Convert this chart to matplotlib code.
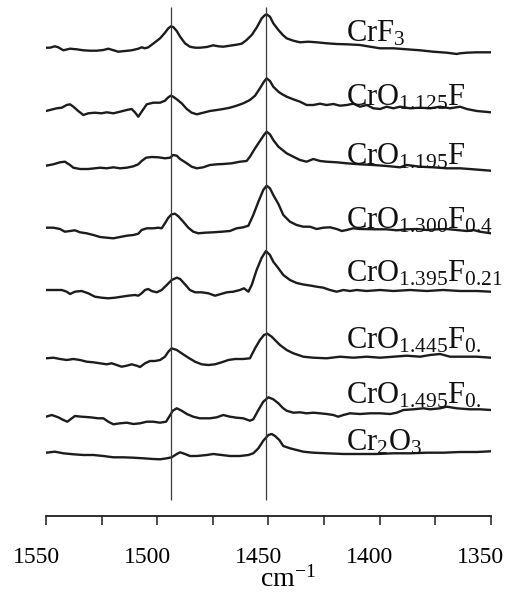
import matplotlib
matplotlib.use('Agg')
import matplotlib.pyplot as plt
import matplotlib.transforms as mtransforms

plt.rcParams['font.family'] = ['Liberation Serif', 'DejaVu Serif']
plt.rcParams['mathtext.fontset'] = 'custom'
plt.rcParams['mathtext.rm'] = 'Liberation Serif'
plt.rcParams['mathtext.it'] = 'Liberation Serif:italic'
plt.rcParams['mathtext.bf'] = 'Liberation Serif:bold'

# ---- data: (wavenumber cm-1, relative intensity) per spectrum ----
crf3 = [(1550, 2.3), (1548.2, 2.3), (1546.0, 3.7), (1544.5, 2.7), (1542.2, -0.3), (1539.2, 1.3),
        (1536.2, 0.7), (1533.2, -0.3), (1530.2, -0.7), (1527.2, -0.7), (1524.2, 0), (1522.0, 1.3),
        (1520.5, 0.3), (1517.5, -1.7), (1514.5, -1), (1511.5, -0.3), (1508.5, 1.3), (1507.0, 2.7),
        (1505.5, 1.7), (1504.0, 2.7), (1501.0, 7.7), (1498.7, 11.7), (1496.5, 17.3), (1495.0, 21.7),
        (1493.8, 23.7), (1492.8, 23), (1491.2, 19), (1489.7, 13.3), (1487.5, 6.7), (1485.3, 3.3),
        (1483.0, 2.3), (1480.8, 2.3), (1477.7, 3), (1474.8, 4.7), (1472.5, 3.7), (1470.3, 3.3),
        (1467.3, 4.3), (1464.3, 5.3), (1462.0, 6.3), (1459.8, 10), (1457.5, 15), (1455.3, 22.3),
        (1453.0, 31.7), (1451.5, 35), (1450.8, 35.7), (1449.3, 33.3), (1447.8, 26.7), (1445.5, 20),
        (1443.5, 15), (1441.8, 11.7), (1438.8, 9.3), (1435.8, 7.7), (1432.1, 8.3), (1428.3, 7.7),
        (1423.8, 6.7), (1419.3, 6), (1414.8, 5.7), (1408.8, 5), (1404.3, 3.3), (1399.8, 1.7),
        (1393.8, 1.7), (1387.8, 0.7), (1381.8, -0.3), (1375.9, -1.7), (1369.8, -2.7), (1365.3, -4),
        (1363.8, -3.3), (1360.8, -2.7), (1356.3, -2.3), (1350, -2.3)]

cro1125 = [(1550, 1), (1548.2, 2), (1545.2, 3.7), (1542.9, 4.3), (1540.7, 7), (1539.2, 7.7),
           (1537.7, 5.3), (1535.5, 1), (1533.2, -3), (1531.0, -1.3), (1528.0, -0.7), (1525.0, -1.3),
           (1522.7, -0.3), (1519.7, -1.3), (1516.7, 0.3), (1513.7, 2), (1511.5, 3), (1510.0, -0.3),
           (1508.5, -4.7), (1507.0, 0.3), (1504.7, 7.7), (1501.8, 9.3), (1498.7, 9.3), (1496.5, 11.3),
           (1495.0, 14.7), (1493.9, 16.3), (1492.8, 15.3), (1491.2, 12.7), (1489.0, 8.7), (1486.7, 3),
           (1484.5, -0.7), (1482.2, -2.3), (1479.3, -0.7), (1476.3, 1), (1473.2, 2), (1470.3, 3),
           (1467.3, 4.3), (1464.3, 6.3), (1461.3, 8.7), (1458.3, 12), (1456.0, 16.3), (1453.8, 23.7),
           (1452.0, 30.3), (1450.8, 33.7), (1449.3, 31), (1447.8, 25.3), (1445.5, 20.3), (1444.0, 18),
           (1441.8, 15.3), (1438.8, 12.7), (1435.8, 10.3), (1432.8, 7), (1429.8, 7), (1426.8, 8.3),
           (1423.8, 7), (1420.8, 8), (1417.8, 6.3), (1414.8, 7), (1411.8, 8.3), (1408.8, 5.3),
           (1405.8, 7), (1402.8, 3.7), (1399.8, 3), (1396.8, 5.3), (1393.8, 3.7), (1390.8, 5.3),
           (1386.3, 3.7), (1381.8, 4.3), (1377.3, 3.7), (1372.8, 5.3), (1368.3, 3.7), (1363.8, 5.3),
           (1360.8, 3), (1356.3, 1), (1350, -0.3)]

cro1195 = [(1550, 1.3), (1546.7, 2.7), (1543.7, 4.7), (1541.5, 5.3), (1539.2, 2), (1537.7, -0.7),
           (1534.7, -2), (1531.0, -2), (1528.0, -1.3), (1525.7, -0.7), (1522.7, -1.3), (1519.7, -0.3),
           (1516.7, -1.3), (1513.7, -0.7), (1510.7, 0.7), (1508.5, 2.7), (1507.0, 6), (1505.0, 9.3),
           (1502.5, 10), (1499.5, 9.7), (1496.5, 8.7), (1494.2, 9.3), (1492.8, 12), (1491.2, 11.3),
           (1489.7, 8), (1486.7, 3.7), (1484.5, 0.3), (1482.2, -1.3), (1479.3, -0.3), (1476.3, 2),
           (1473.2, 2.7), (1470.3, 3), (1466.5, 3.7), (1462.8, 5.3), (1459.8, 6), (1458.3, 10.3),
           (1456.0, 18.7), (1453.8, 26), (1452.0, 32), (1450.8, 35.3), (1449.3, 32.7), (1447.8, 27),
           (1445.5, 20.3), (1441.8, 13.7), (1438.8, 10.3), (1435.8, 7), (1432.8, 5.3), (1429.8, 8),
           (1426.8, 6), (1423.8, 5.3), (1419.3, 4.7), (1414.8, 3.7), (1408.8, 2.7), (1402.8, 2),
           (1396.8, 1), (1390.8, -0.3), (1387.8, 2), (1381.8, 0.3), (1375.9, -0.3), (1369.8, -1.3),
           (1363.8, -1.3), (1357.9, -2.3), (1350, -3.7)]

cro1300 = [(1550, 0.3), (1546.7, 0.3), (1543.7, -1), (1541.5, -3.7), (1539.2, -3), (1537.0, -2.3),
           (1534.7, -4.3), (1531.7, -5.3), (1528.7, -7), (1525.7, -9), (1522.7, -9.7), (1519.7, -10.3),
           (1516.7, -9), (1513.7, -7.7), (1510.7, -7), (1508.5, -5.7), (1507.0, -2), (1504.7, -0.3),
           (1501.8, -0.3), (1499.5, 0.3), (1498.0, -0.3), (1496.5, 4.7), (1495.0, 10.3), (1493.5, 13.7),
           (1492.0, 14.3), (1490.5, 11.7), (1488.3, 6.3), (1486.0, 0.3), (1483.8, -3.7), (1481.5, -5.3),
           (1478.5, -4.7), (1474.8, -4.3), (1471.0, -3.7), (1467.3, -3), (1464.3, -0.3), (1461.3, 0.7),
           (1459.0, 2.3), (1456.8, 13), (1454.5, 26.3), (1452.3, 38), (1450.8, 42.3), (1449.3, 39.7),
           (1447.8, 33), (1445.5, 24), (1443.3, 13), (1440.3, 6.3), (1437.3, 3), (1434.3, 1.3),
           (1431.3, 1.3), (1428.3, -1), (1425.3, 0.3), (1422.3, 0.7), (1419.3, -1), (1417.0, -3),
           (1414.8, -2), (1411.8, -0.3), (1408.8, -1), (1401.3, -1.3), (1396.8, -1.3), (1392.3, -2.3),
           (1387.8, -1.3), (1383.3, -1), (1378.8, -2), (1374.3, -1.3), (1369.8, -1), (1365.3, -2),
           (1360.8, -3), (1357.9, -2), (1354.9, -3.7), (1350, -5.3)]

cro1395 = [(1550, 0), (1546.7, 0), (1542.9, 0), (1540.7, -1.7), (1539.2, -4), (1537.0, -1.7),
           (1534.0, -1), (1531.0, -3.3), (1528.0, -6.7), (1525.0, -7.7), (1522.0, -8.3), (1519.0, -7.7),
           (1516.0, -6.7), (1513.0, -5.7), (1510.0, -5), (1508.5, -5.7), (1507.0, -3.3), (1505.5, 0),
           (1504.0, 1), (1502.5, -1), (1500.2, -2.3), (1498.0, 0), (1495.7, 5), (1493.5, 10),
           (1491.2, 12.3), (1489.7, 11), (1487.5, 5.7), (1485.3, 0), (1483.0, -2.3), (1480.0, -2.3),
           (1477.0, -3.3), (1474.0, -5.7), (1471.8, -4.3), (1468.7, -2.3), (1465.8, -1.7), (1462.8, 0),
           (1461.0, 1.7), (1459.0, -1.7), (1457.5, 5), (1455.3, 20), (1453.0, 32.3), (1451.1, 39),
           (1449.3, 35), (1447.8, 28.3), (1445.5, 21.7), (1443.3, 15), (1440.3, 10), (1437.3, 7),
           (1434.3, 5.5), (1431.3, 4.5), (1428.3, 3.3), (1425.3, 2.3), (1422.3, 0), (1419.3, -1.7),
           (1416.3, 0), (1413.3, -1), (1410.3, 0), (1405.8, -1), (1399.8, 0), (1393.8, -1),
           (1386.3, 0), (1378.8, -1), (1371.4, 0), (1363.8, -1), (1356.3, -1), (1350, -1.7)]

cro1445 = [(1550, -0.3), (1546.7, 0.3), (1543.7, -1), (1540.7, -2), (1537.7, -1), (1534.7, -2),
           (1531.7, -3.7), (1528.7, -4.3), (1525.7, -5.3), (1522.7, -6.3), (1520.5, -5.3), (1518.2, -7),
           (1516.0, -8.7), (1513.7, -7.7), (1511.5, -6.3), (1509.2, -7.7), (1507.7, -9), (1505.5, -5.3),
           (1503.2, -3), (1501.0, -3), (1498.7, -2), (1496.5, 1.3), (1495.0, 6.3), (1493.5, 9.7),
           (1491.2, 8), (1489.0, 4.7), (1486.0, 0.3), (1483.0, -3.7), (1480.0, -6.3), (1477.0, -7),
           (1474.0, -6.3), (1471.0, -4.3), (1468.0, -2), (1465.0, -1), (1461.3, -1), (1458.3, -0.3),
           (1456.0, 9.7), (1453.8, 18), (1452.0, 23), (1450.5, 24.3), (1448.5, 21.3), (1446.3, 16.3),
           (1444.8, 13), (1441.8, 8), (1438.8, 4.7), (1434.3, 1.3), (1429.8, 0.3), (1423.8, -0.3),
           (1417.8, 1.3), (1411.8, 0.3), (1405.8, 1.3), (1399.8, 0.3), (1393.8, 1.3), (1387.8, 2.3),
           (1381.8, 1.3), (1377.3, 3), (1372.8, 4), (1368.3, 1.3), (1363.8, 1.3), (1356.3, 1.3),
           (1350, 0.3)]

cro1495 = [(1550, -0.7), (1547.4, 1), (1544.5, -1.3), (1542.2, -4), (1540.4, -5.7), (1538.4, -2.3),
           (1537.0, 0), (1534.0, -0.7), (1530.2, -1.3), (1526.5, -2.3), (1524.2, -2.3), (1522.0, -5.7),
           (1519.7, -8.3), (1516.7, -7.3), (1513.7, -6.7), (1510.7, -8), (1507.7, -7.3), (1504.7, -5.7),
           (1501.8, -5.7), (1498.7, -6.7), (1496.0, -5.7), (1494.6, -0.7), (1493.0, 5.3), (1491.2, 7.7),
           (1489.0, 5.3), (1486.7, 2), (1483.8, -0.7), (1480.8, -2.3), (1476.3, -2.3), (1473.2, -1.3),
           (1470.3, 1), (1467.3, -0.7), (1464.3, -1.7), (1461.3, -2.3), (1458.3, -4.7), (1456.8, -3.3),
           (1454.5, 6), (1452.3, 14.3), (1450.0, 18.7), (1447.8, 16.7), (1445.5, 12.7), (1443.5, 8),
           (1441.8, 5.3), (1438.8, 3.3), (1435.8, 3.7), (1432.8, 2.7), (1429.8, 3.3), (1426.8, 2.7),
           (1423.8, 2), (1420.8, 1), (1418.6, -0.7), (1416.3, 1), (1413.3, 2.7), (1408.8, 2),
           (1404.3, 2.7), (1399.8, 2.7), (1395.3, 2), (1392.3, 3.3), (1389.3, 6), (1384.8, 6.7),
           (1380.3, 7.7), (1377.3, 6.7), (1372.8, 7.7), (1369.8, 9.3), (1365.3, 7.7), (1359.4, 6.7),
           (1354.9, 6.7), (1350, 6)]

cr2o3 = [(1550, 0.3), (1546.0, 1.3), (1542.2, -0.3), (1537.7, -1.3), (1533.2, -2), (1528.7, -2),
         (1524.2, -3), (1519.7, -4.3), (1515.2, -4.3), (1510.7, -4.7), (1506.3, -5.3), (1501.8, -6),
         (1498.7, -6.3), (1495.7, -5.3), (1493.5, -4.3), (1491.2, -1), (1489.7, 0.7), (1487.5, -1),
         (1485.3, -3), (1482.2, -3), (1477.7, -2), (1474.8, -1), (1471.0, -2), (1467.3, -3),
         (1462.8, -3), (1459.0, -2), (1456.8, -0.3), (1454.5, 4.7), (1452.3, 12.3), (1450.0, 18),
         (1448.5, 19), (1447.0, 17), (1445.1, 13), (1443.3, 7), (1440.3, 4.7), (1437.3, 3),
         (1434.3, 1.3), (1429.8, 0.3), (1423.8, -0.3), (1416.3, -1), (1408.8, -1), (1401.3, -1),
         (1393.8, -0.3), (1386.3, -0.3), (1378.8, 0.3), (1371.4, 0.3), (1363.8, 1), (1356.3, 1),
         (1350, 1.7)]

spectra = [crf3, cro1125, cro1195, cro1300, cro1395, cro1445, cro1495, cr2o3]
offsets = [466, 404, 349, 288, 226, 158, 100, 63]
labels = [r'$\mathrm{CrF_3}$', r'$\mathrm{CrO_{1.125}F}$', r'$\mathrm{CrO_{1.195}F}$',
          r'$\mathrm{CrO_{1.300}F_{0.4}}$', r'$\mathrm{CrO_{1.395}F_{0.21}}$',
          r'$\mathrm{CrO_{1.445}F_{0.}}$', r'$\mathrm{CrO_{1.495}F_{0.}}$', r'$\mathrm{Cr_2O_3}$']
ref_lines = [1494, 1451]
major_ticks = [1550, 1500, 1450, 1400, 1350]
minor_ticks = [1525, 1475, 1425, 1375]

# ---- figure ----
fig = plt.figure(figsize=(5.06, 5.97), dpi=100)
ax = fig.add_axes([46 / 506, 1 - 515.7 / 597, 444.8 / 506, 510.7 / 597])
ax.set_xlim(1550, 1350)
ax.set_ylim(0.3, 511)

ink = '#1c1c1c'
for spec, off in zip(spectra, offsets):
    xs = [p[0] for p in spec]
    ys = [off + p[1] for p in spec]
    ax.plot(xs, ys, color=ink, lw=1.7, solid_joinstyle='round', solid_capstyle='round')

ax.vlines(ref_lines, 16, 509, color='#3a3a3a', lw=0.9)

label_y = [475, 411, 352, 288, 235, 168, 113, 66]
for lab, ly in zip(labels, label_y):
    ax.text(1415, ly, lab, fontsize=22, ha='left', va='baseline', color='#111111')

for s in ['left', 'right', 'top']:
    ax.spines[s].set_visible(False)
ax.spines['bottom'].set_linewidth(1.3)
ax.spines['bottom'].set_color(ink)
ax.set_yticks([])
ax.set_xticks(major_ticks)
ax.set_xticks(minor_ticks, minor=True)
ax.tick_params(axis='x', which='both', direction='out', length=6.5, width=1.1, color=ink)
ax.tick_params(axis='x', which='major', labelsize=17, pad=16)

shift = mtransforms.ScaledTranslation(-0.10, 0, fig.dpi_scale_trans)
for t in ax.xaxis.get_major_ticks():
    t.label1.set_transform(t.label1.get_transform() + shift)

ax.set_xlabel(r'cm$^{\mathregular{-1}}$', fontsize=20)
ax.xaxis.set_label_coords(0.544, -0.098)

fig.savefig('out.png', dpi=100, facecolor='white')
